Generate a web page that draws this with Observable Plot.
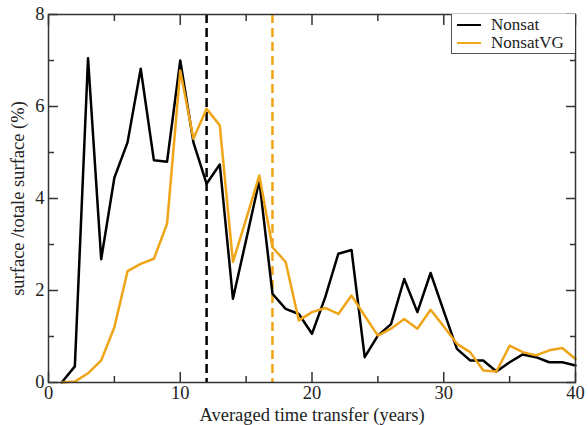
<!DOCTYPE html>
<html><head><meta charset="utf-8">
<script src="https://cdn.jsdelivr.net/npm/d3@7"></script>
<script src="https://cdn.jsdelivr.net/npm/@observablehq/plot@0.6"></script>
<style>
body{margin:0;background:#fff;}
#wrap{position:relative;width:588px;height:425px;}
#wrap, #wrap *{font-family:'Liberation Serif' !important;}
#legend{position:absolute;left:451px;top:14px;width:123px;height:39px;border:1px solid #555;border-right:none;border-top:none;background:#fff;font-size:17px;line-height:17px;color:#222;}
.row{position:absolute;left:5px;height:17px;display:flex;align-items:center;}
.sw{width:24px;height:2px;margin-right:10px;}
</style></head>
<body><div id="wrap"><div id="legend"></div></div>
<script>
const years = [1,2,3,4,5,6,7,8,9,10,11,12,13,14,15,16,17,18,19,20,21,22,23,24,25,26,27,28,29,30,31,32,33,34,35,36,37,38,39,40];
const nonsat = [0,0.35,7.05,2.68,4.45,5.22,6.82,4.83,4.8,7.0,5.22,4.32,4.74,1.82,3.1,4.39,1.93,1.6,1.49,1.06,1.85,2.8,2.88,0.55,1.02,1.27,2.25,1.53,2.38,1.55,0.73,0.48,0.48,0.24,0.44,0.61,0.55,0.44,0.44,0.37];
const nonsatVG = [0,0.02,0.2,0.48,1.2,2.42,2.58,2.69,3.45,6.78,5.3,5.95,5.59,2.62,3.55,4.5,2.94,2.62,1.35,1.53,1.62,1.49,1.89,1.45,1.02,1.17,1.38,1.17,1.58,1.22,0.84,0.66,0.26,0.24,0.8,0.66,0.59,0.7,0.75,0.51];
const seriesNames = ["Nonsat","NonsatVG"];
const colors = ["#000000","#f0a518"];
const meanLines = [12,17];
const xMajor = [0,10,20,30,40];
const xMinor = [5,15,25,35];
const yMajor = [0,2,4,6,8];
const yMinor = [1,3,5,7];

const data = [];
years.forEach((y,i)=>{ data.push({x:y,v:nonsat[i],s:seriesNames[0]}); data.push({x:y,v:nonsatVG[i],s:seriesNames[1]}); });
const means = meanLines.map((m,i)=>({x:m,s:seriesNames[i]}));

const tickStyle = {stroke:"#333", strokeWidth:1.5};
const chart = Plot.plot({
  width:588, height:425,
  marginLeft:48, marginRight:13, marginTop:14, marginBottom:43,
  style:{fontFamily:"Liberation Serif", fontSize:"18px", color:"#222", background:"#fff"},
  x:{domain:[0,40]},
  y:{domain:[0,8]},
  color:{domain:seriesNames, range:colors},
  marks:[
    Plot.axisX({ticks:xMajor, tickSize:0, tickPadding:3, label:null, fontSize:18.5}),
    Plot.axisY({ticks:yMajor, tickSize:0, tickPadding:4, label:null, fontSize:18.5}),
    Plot.axisX({ticks:xMajor, anchor:"bottom", tickSize:-10, tickFormat:()=>"", label:null, ...tickStyle}),
    Plot.axisX({ticks:xMinor, anchor:"bottom", tickSize:-6, tickFormat:()=>"", label:null, ...tickStyle}),
    Plot.axisX({ticks:xMajor, anchor:"top", tickSize:-10, tickFormat:()=>"", label:null, ...tickStyle}),
    Plot.axisX({ticks:xMinor, anchor:"top", tickSize:-6, tickFormat:()=>"", label:null, ...tickStyle}),
    Plot.axisY({ticks:yMajor, anchor:"left", tickSize:-10, tickFormat:()=>"", label:null, ...tickStyle}),
    Plot.axisY({ticks:yMinor, anchor:"left", tickSize:-6, tickFormat:()=>"", label:null, ...tickStyle}),
    Plot.axisY({ticks:yMajor, anchor:"right", tickSize:-10, tickFormat:()=>"", label:null, ...tickStyle}),
    Plot.axisY({ticks:yMinor, anchor:"right", tickSize:-6, tickFormat:()=>"", label:null, ...tickStyle}),
    Plot.ruleX(means, {x:"x", stroke:"s", strokeWidth:2.5, strokeDasharray:"9,5"}),
    Plot.line(data, {x:"x", y:"v", z:"s", stroke:"s", strokeWidth:2.5}),
    Plot.frame({stroke:"#333", strokeWidth:1.5}),
    Plot.text(["Averaged time transfer (years)"], {frameAnchor:"bottom", dy:38, fontSize:18.5, fill:"#222"}),
    Plot.text(["surface /totale surface (%)"], {frameAnchor:"left", textAnchor:"middle", dx:-30, rotate:-90, fontSize:18.5, fill:"#222"})
  ]
});
document.getElementById("wrap").prepend(chart);
const lg = document.getElementById("legend");
seriesNames.forEach((n,i)=>{
  const r = document.createElement("div");
  r.className="row"; r.style.top = (2 + i*18)+"px";
  r.innerHTML = `<div class="sw" style="background:${colors[i]}"></div><span>${n}</span>`;
  lg.appendChild(r);
});
</script></body></html>
